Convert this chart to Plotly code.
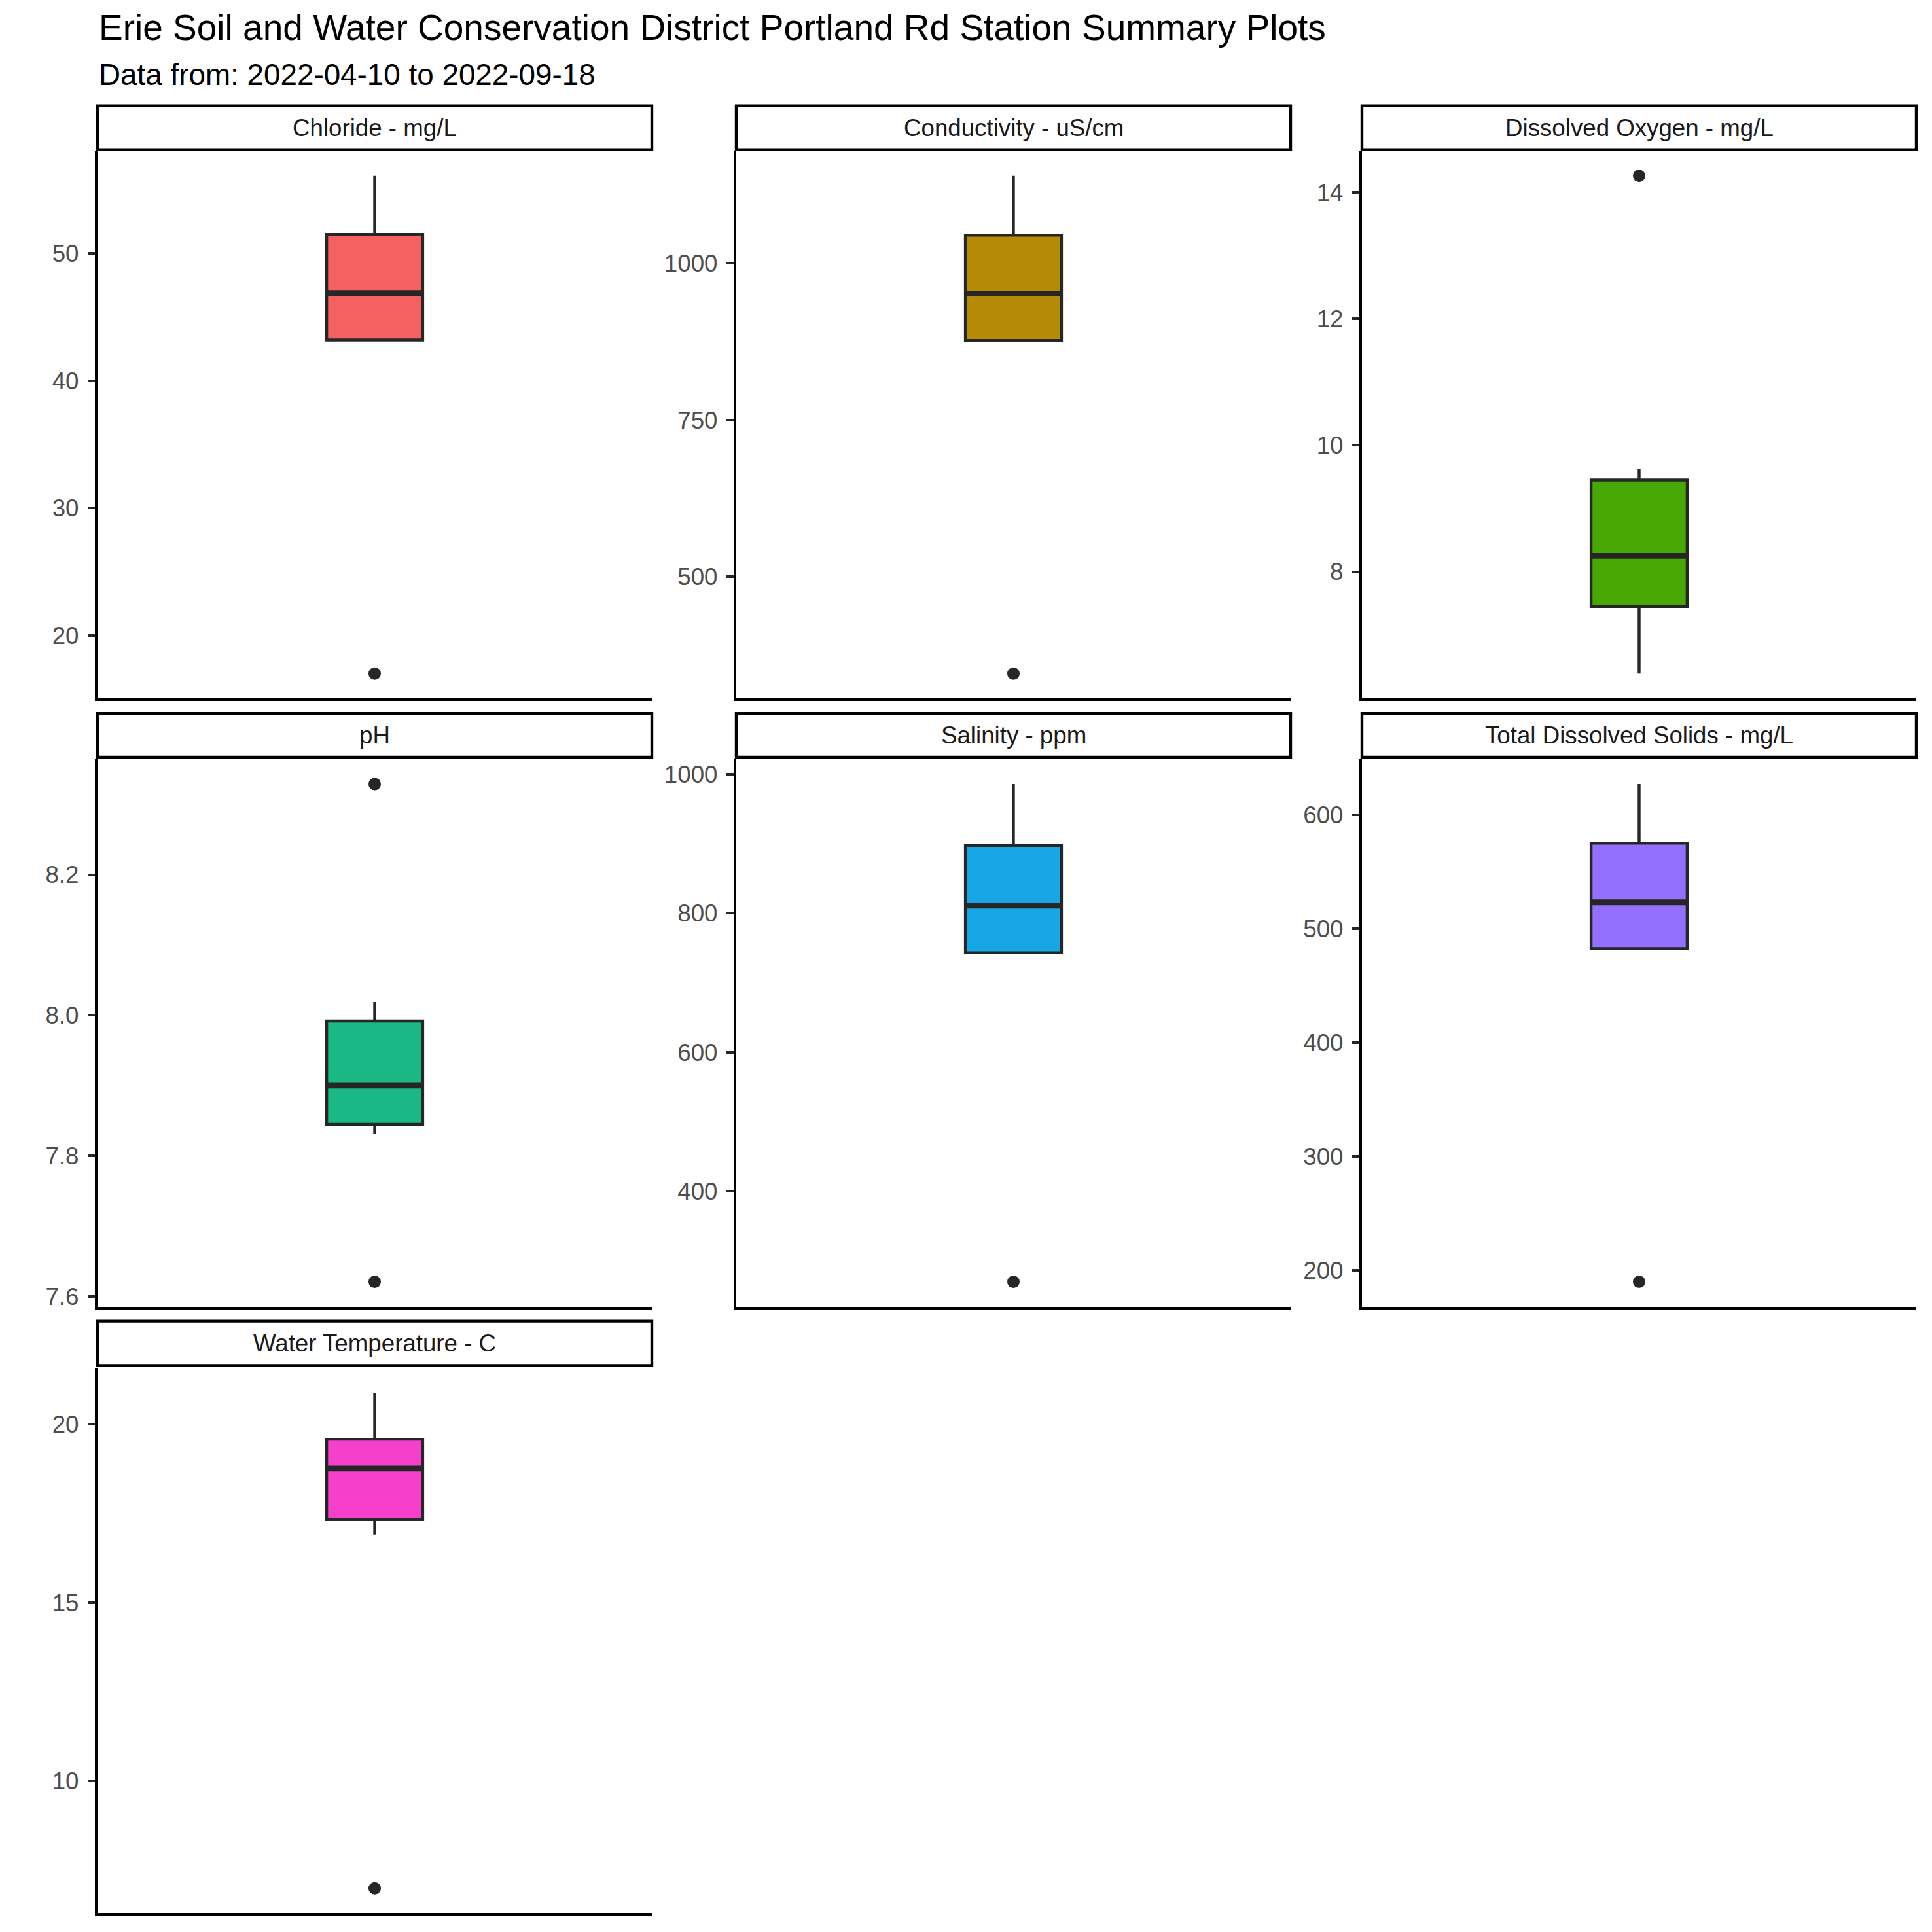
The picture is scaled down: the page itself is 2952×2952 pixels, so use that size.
import plotly.graph_objects as go

# ---------------- data ----------------
params = ["Chloride - mg/L", "Conductivity - uS/cm", "Dissolved Oxygen - mg/L", "pH",
          "Salinity - ppm", "Total Dissolved Solids - mg/L", "Water Temperature - C"]
lower_whisker = [43.2, 877.0, 6.39, 7.831, 743.0, 482.6, 16.91]
q1 = [43.2, 877.0, 7.45, 7.845, 743.0, 482.6, 17.33]
median = [46.9, 951.7, 8.25, 7.900, 810.6, 523.2, 18.76]
q3 = [51.5, 1045.0, 9.45, 7.992, 897.2, 575.1, 19.58]
upper_whisker = [56.1, 1139.5, 9.63, 8.019, 985.5, 627.0, 20.88]
outliers = [[17.0], [345.7], [14.26], [8.329, 7.621], [269.8], [190.1], [6.99]]

tick_vals = [[20, 30, 40, 50], [500, 750, 1000], [8, 10, 12, 14], [7.6, 7.8, 8.0, 8.2],
             [400, 600, 800, 1000], [200, 300, 400, 500, 600], [10, 15, 20]]
tick_text = [["20", "30", "40", "50"], ["500", "750", "1000"], ["8", "10", "12", "14"],
             ["7.6", "7.8", "8.0", "8.2"], ["400", "600", "800", "1000"],
             ["200", "300", "400", "500", "600"], ["10", "15", "20"]]
fill_colors = ["#F4615F", "#B58A05", "#47A803", "#1AB884", "#17A7E4", "#9370FE", "#F640CC"]

title = "Erie Soil and Water Conservation District Portland Rd Station Summary Plots"
subtitle = "Data from: 2022-04-10 to 2022-09-18"

# ---------------- layout geometry (pixels) ----------------
W = H = 2952
col_px = [(149, 996), (1125, 1972), (2081, 2928)]
row_panel_px = [(231, 1069), (1162, 2000), (2094, 2928)]
row_strip_px = [(162, 229), (1092, 1159), (2022, 2090)]

FONT = "Liberation Sans, Arial, sans-serif"
LINE = "#262626"
LW = 4.4
BOX_W = 0.208


def px_x(p):
    return p / W


def px_y(p):
    return 1 - p / H


fig = go.Figure()
shapes = []
annotations = []

for i, name in enumerate(params):
    k = i + 1
    r, c = divmod(i, 3)
    xs = "x" if k == 1 else f"x{k}"
    ys = "y" if k == 1 else f"y{k}"

    fig.add_trace(go.Box(
        x=[0], q1=[q1[i]], median=[median[i]], q3=[q3[i]],
        lowerfence=[lower_whisker[i]], upperfence=[upper_whisker[i]],
        width=BOX_W, whiskerwidth=0, boxpoints=False,
        fillcolor=fill_colors[i], line=dict(color=LINE, width=LW),
        xaxis=xs, yaxis=ys, showlegend=False, hoverinfo="skip"))
    # thicker median line (ggplot fatten = 2)
    fig.add_trace(go.Scatter(
        x=[-BOX_W / 2, BOX_W / 2], y=[median[i], median[i]], mode="lines",
        line=dict(color=LINE, width=LW * 2), xaxis=xs, yaxis=ys,
        showlegend=False, hoverinfo="skip"))
    fig.add_trace(go.Scatter(
        x=[0] * len(outliers[i]), y=outliers[i], mode="markers",
        marker=dict(color=LINE, size=19), xaxis=xs, yaxis=ys,
        showlegend=False, hoverinfo="skip"))

    vals = [lower_whisker[i], upper_whisker[i]] + outliers[i]
    lo, hi = min(vals), max(vals)
    pad = (hi - lo) * 0.05

    x0, x1 = col_px[c]
    ytop, ybot = row_panel_px[r]
    axx = dict(domain=[px_x(x0), px_x(x1)], range=[-0.6, 0.6], anchor=ys,
               showline=True, linecolor="black", linewidth=LW, showticklabels=False,
               ticks="", showgrid=False, zeroline=False, fixedrange=True)
    axy = dict(domain=[px_y(ybot), px_y(ytop)], range=[lo - pad, hi + pad], anchor=xs,
               tickvals=tick_vals[i], ticktext=tick_text[i], ticks="outside",
               ticklen=11, tickwidth=LW, tickcolor=LINE, showline=True,
               linecolor="black", linewidth=LW, showgrid=False, zeroline=False,
               tickfont=dict(family=FONT, size=36.7, color="#4D4D4D"),
               ticklabelstandoff=6, fixedrange=True)
    fig.update_layout(**{("xaxis" if k == 1 else f"xaxis{k}"): axx,
                         ("yaxis" if k == 1 else f"yaxis{k}"): axy})

    st, sb = row_strip_px[r]
    shapes.append(dict(type="rect", xref="paper", yref="paper",
                       x0=px_x(x0), x1=px_x(x1), y0=px_y(sb), y1=px_y(st),
                       line=dict(color="black", width=LW), fillcolor="white", layer="above"))
    annotations.append(dict(text=name, xref="paper", yref="paper",
                            x=px_x((x0 + x1) / 2), y=px_y((st + sb) / 2),
                            xanchor="center", yanchor="middle", showarrow=False,
                            font=dict(family=FONT, size=36.7, color="#1A1A1A")))

annotations.append(dict(text=title, xref="paper", yref="paper", x=px_x(149), y=px_y(42),
                        xanchor="left", yanchor="middle", showarrow=False,
                        font=dict(family=FONT, size=55, color="black")))
annotations.append(dict(text=subtitle, xref="paper", yref="paper", x=px_x(149), y=px_y(115),
                        xanchor="left", yanchor="middle", showarrow=False,
                        font=dict(family=FONT, size=45.8, color="black")))

fig.update_layout(width=W, height=H, margin=dict(l=0, r=0, t=0, b=0),
                  paper_bgcolor="white", plot_bgcolor="white",
                  shapes=shapes, annotations=annotations, showlegend=False)

fig.write_html("out.html")
